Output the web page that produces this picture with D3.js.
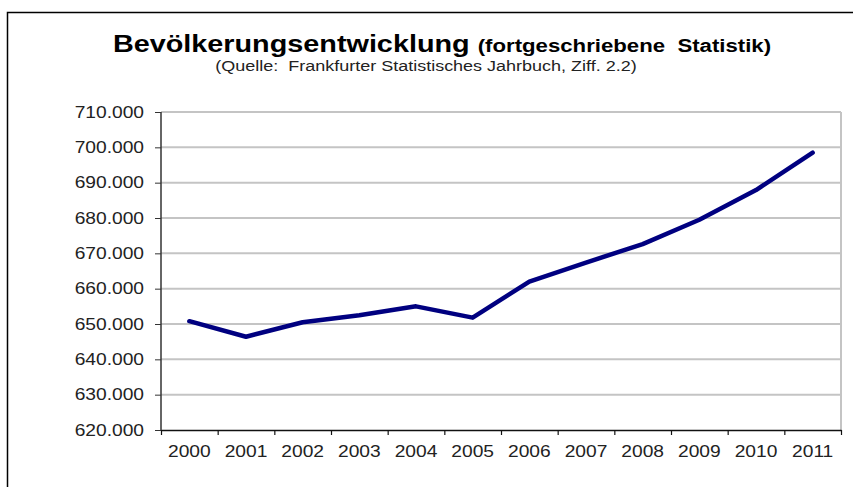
<!DOCTYPE html>
<html>
<meta charset="utf-8">
<style>
body { margin: 0; background: #fff; }
text { font-family: Arial, "Liberation Sans", sans-serif; }
</style>
<body>
<script src="https://d3js.org/d3.v7.min.js"></script>
<script>
var width = 853,
    height = 487;

// data
var years = ["2000", "2001", "2002", "2003", "2004", "2005", "2006", "2007", "2008", "2009", "2010", "2011"];
var population = [650800, 646400, 650500, 652500, 655000, 651800, 662000, 667400, 672600, 679500, 687900, 698500];
var yTicks = [620000, 630000, 640000, 650000, 660000, 670000, 680000, 690000, 700000, 710000];

var sx = 1.2; // the picture's text is stretched sideways

var margin = {top: 112, right: 12, bottom: 57, left: 161};
var w = width - margin.left - margin.right,
    h = height - margin.top - margin.bottom;

var de = d3.formatLocale({decimal: ",", thousands: ".", grouping: [3], currency: ["", ""]});
var fmt = de.format(",");

function stretch(sel) {
  sel.attr("transform", function() {
    var x = +this.getAttribute("x") || 0;
    return "translate(" + x * (1 - sx) + ",0) scale(" + sx + ",1)";
  });
}

var svg = d3.select("body").append("svg")
    .attr("width", width)
    .attr("height", height);

// outer frame (only top and left visible)
svg.append("path")
    .attr("d", "M7.5,487 V12.5 H853")
    .style("fill", "none")
    .style("stroke", "#000")
    .style("stroke-width", 1.5);

// titles
var title = svg.append("text")
    .attr("x", 0).attr("y", 0)
    .attr("transform", "translate(442,52) scale(" + sx + ",1)")
    .attr("text-anchor", "middle")
    .style("font-weight", "bold")
    .style("white-space", "pre");
title.append("tspan").style("font-size", "24px").text("Bevölkerungsentwicklung ");
title.append("tspan").style("font-size", "18.5px").text("(fortgeschriebene  Statistik)");

svg.append("text")
    .attr("transform", "translate(426,71) scale(" + sx + ",1)")
    .attr("text-anchor", "middle")
    .style("font-size", "15px")
    .style("fill", "#222")
    .style("white-space", "pre")
    .text("(Quelle:  Frankfurter Statistisches Jahrbuch, Ziff. 2.2)");

var g = svg.append("g")
    .attr("transform", "translate(" + margin.left + "," + margin.top + ")");

var x = d3.scaleBand().domain(years).range([0, w]);
var xIdx = d3.scaleLinear().domain([0, years.length]).range([0, w]);
var y = d3.scaleLinear().domain([620000, 710000]).range([h, 0]);

// gridlines
g.append("g")
    .selectAll("line")
    .data(yTicks.slice(1))
    .enter().append("line")
    .attr("x1", 0).attr("x2", w)
    .attr("y1", function(d) { return y(d); })
    .attr("y2", function(d) { return y(d); })
    .style("stroke", "#c4c4c4")
    .style("stroke-width", 2);

// right border of plot area
g.append("line")
    .attr("x1", w).attr("x2", w)
    .attr("y1", 0).attr("y2", h)
    .style("stroke", "#c4c4c4")
    .style("stroke-width", 2);

// y axis
var yAxis = g.append("g")
    .call(d3.axisLeft(y).tickValues(yTicks).tickFormat(fmt).tickSize(6).tickPadding(11));
yAxis.select(".domain").attr("d", "M0," + h + "V0").style("stroke", "#333").style("stroke-width", 1.5);
yAxis.selectAll(".tick line").style("stroke", "#333");
yAxis.selectAll("text")
    .style("font-size", "16px")
    .style("fill", "#222")
    .call(stretch);

// x axis: labels at centres, ticks at category boundaries
var xAxis = g.append("g")
    .attr("transform", "translate(0," + h + ")")
    .call(d3.axisBottom(x).tickSize(0).tickPadding(15.5));
xAxis.select(".domain").style("stroke", "#111").style("stroke-width", 1.5);
xAxis.selectAll("text")
    .style("font-size", "16px")
    .style("fill", "#222")
    .call(stretch);

var xTicks = g.append("g")
    .attr("transform", "translate(0," + h + ")")
    .call(d3.axisBottom(xIdx).tickValues(d3.range(years.length + 1)).tickFormat("").tickSize(5));
xTicks.select(".domain").remove();
xTicks.selectAll(".tick line").style("stroke", "#111").style("stroke-width", 1.2);

// the line
var line = d3.line()
    .x(function(d, i) { return x(years[i]) + x.bandwidth() / 2; })
    .y(function(d) { return y(d); });

g.append("path")
    .datum(population)
    .attr("d", line)
    .style("fill", "none")
    .style("stroke", "#000080")
    .style("stroke-width", 4.5)
    .style("stroke-linejoin", "round")
    .style("stroke-linecap", "round");
</script>
</body>
</html>
